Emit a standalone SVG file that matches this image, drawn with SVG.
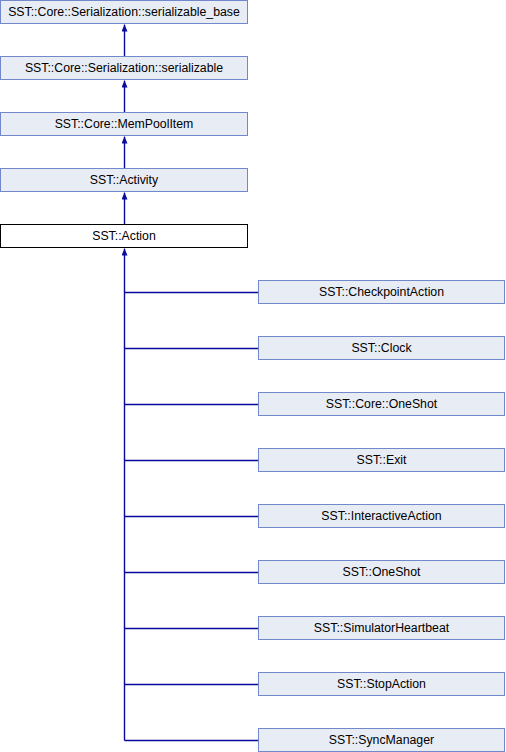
<svg xmlns="http://www.w3.org/2000/svg" width="506" height="752" viewBox="0 0 506 752">
<style>
.n rect{fill:#E8ECF5;stroke:#7189CA;stroke-width:1}
.n.cur rect{fill:#FFFFFF;stroke:#000000}
.n text{font-family:"Liberation Sans",Arial,sans-serif;font-size:12.3px;fill:#000;text-anchor:middle}
.e{stroke:#0A0A9E;stroke-width:1.4;fill:none}
</style>
<defs>
<marker id="ah" markerWidth="7" markerHeight="6" refX="7" refY="3" orient="auto" markerUnits="userSpaceOnUse" viewBox="0 0 7 6">
<path d="M0,0 L7,3 L0,6 Z" fill="#0A0A9E"/>
</marker>
</defs>
<rect width="506" height="752" fill="#fff"/>
<g id="connectors">
<line class="e" x1="124.5" y1="56" x2="124.5" y2="24.5" marker-end="url(#ah)"/>
<line class="e" x1="124.5" y1="112" x2="124.5" y2="80.5" marker-end="url(#ah)"/>
<line class="e" x1="124.5" y1="168" x2="124.5" y2="136.5" marker-end="url(#ah)"/>
<line class="e" x1="124.5" y1="224" x2="124.5" y2="192.5" marker-end="url(#ah)"/>
<path class="e" d="M124.5,740.5 L124.5,248.5" marker-end="url(#ah)"/>
<path class="e" d="M124.5,292.5 H258.5 M124.5,348.5 H258.5 M124.5,404.5 H258.5 M124.5,460.5 H258.5 M124.5,516.5 H258.5 M124.5,572.5 H258.5 M124.5,628.5 H258.5 M124.5,684.5 H258.5 M124.5,740.5 H258.5"/>
</g>
<g id="serializable_base" class="n"><rect x="0.5" y="0.5" width="247" height="23"/><text x="124" y="15.5">SST::Core::Serialization::serializable_base</text></g>
<g id="serializable" class="n"><rect x="0.5" y="56.5" width="247" height="23"/><text x="124" y="71.5">SST::Core::Serialization::serializable</text></g>
<g id="MemPoolItem" class="n"><rect x="0.5" y="112.5" width="247" height="23"/><text x="124" y="127.5">SST::Core::MemPoolItem</text></g>
<g id="Activity" class="n"><rect x="0.5" y="168.5" width="247" height="23"/><text x="124" y="183.5">SST::Activity</text></g>
<g id="Action" class="n cur"><rect x="0.5" y="224.5" width="247" height="23"/><text x="124" y="239.5">SST::Action</text></g>
<g id="CheckpointAction" class="n"><rect x="258.5" y="280.5" width="246" height="23"/><text x="381.5" y="295.5">SST::CheckpointAction</text></g>
<g id="Clock" class="n"><rect x="258.5" y="336.5" width="246" height="23"/><text x="381.5" y="351.5">SST::Clock</text></g>
<g id="CoreOneShot" class="n"><rect x="258.5" y="392.5" width="246" height="23"/><text x="381.5" y="407.5">SST::Core::OneShot</text></g>
<g id="Exit" class="n"><rect x="258.5" y="448.5" width="246" height="23"/><text x="381.5" y="463.5">SST::Exit</text></g>
<g id="InteractiveAction" class="n"><rect x="258.5" y="504.5" width="246" height="23"/><text x="381.5" y="519.5">SST::InteractiveAction</text></g>
<g id="OneShot" class="n"><rect x="258.5" y="560.5" width="246" height="23"/><text x="381.5" y="575.5">SST::OneShot</text></g>
<g id="SimulatorHeartbeat" class="n"><rect x="258.5" y="616.5" width="246" height="23"/><text x="381.5" y="631.5">SST::SimulatorHeartbeat</text></g>
<g id="StopAction" class="n"><rect x="258.5" y="672.5" width="246" height="23"/><text x="381.5" y="687.5">SST::StopAction</text></g>
<g id="SyncManager" class="n"><rect x="258.5" y="728.5" width="246" height="23"/><text x="381.5" y="743.5">SST::SyncManager</text></g>
</svg>
